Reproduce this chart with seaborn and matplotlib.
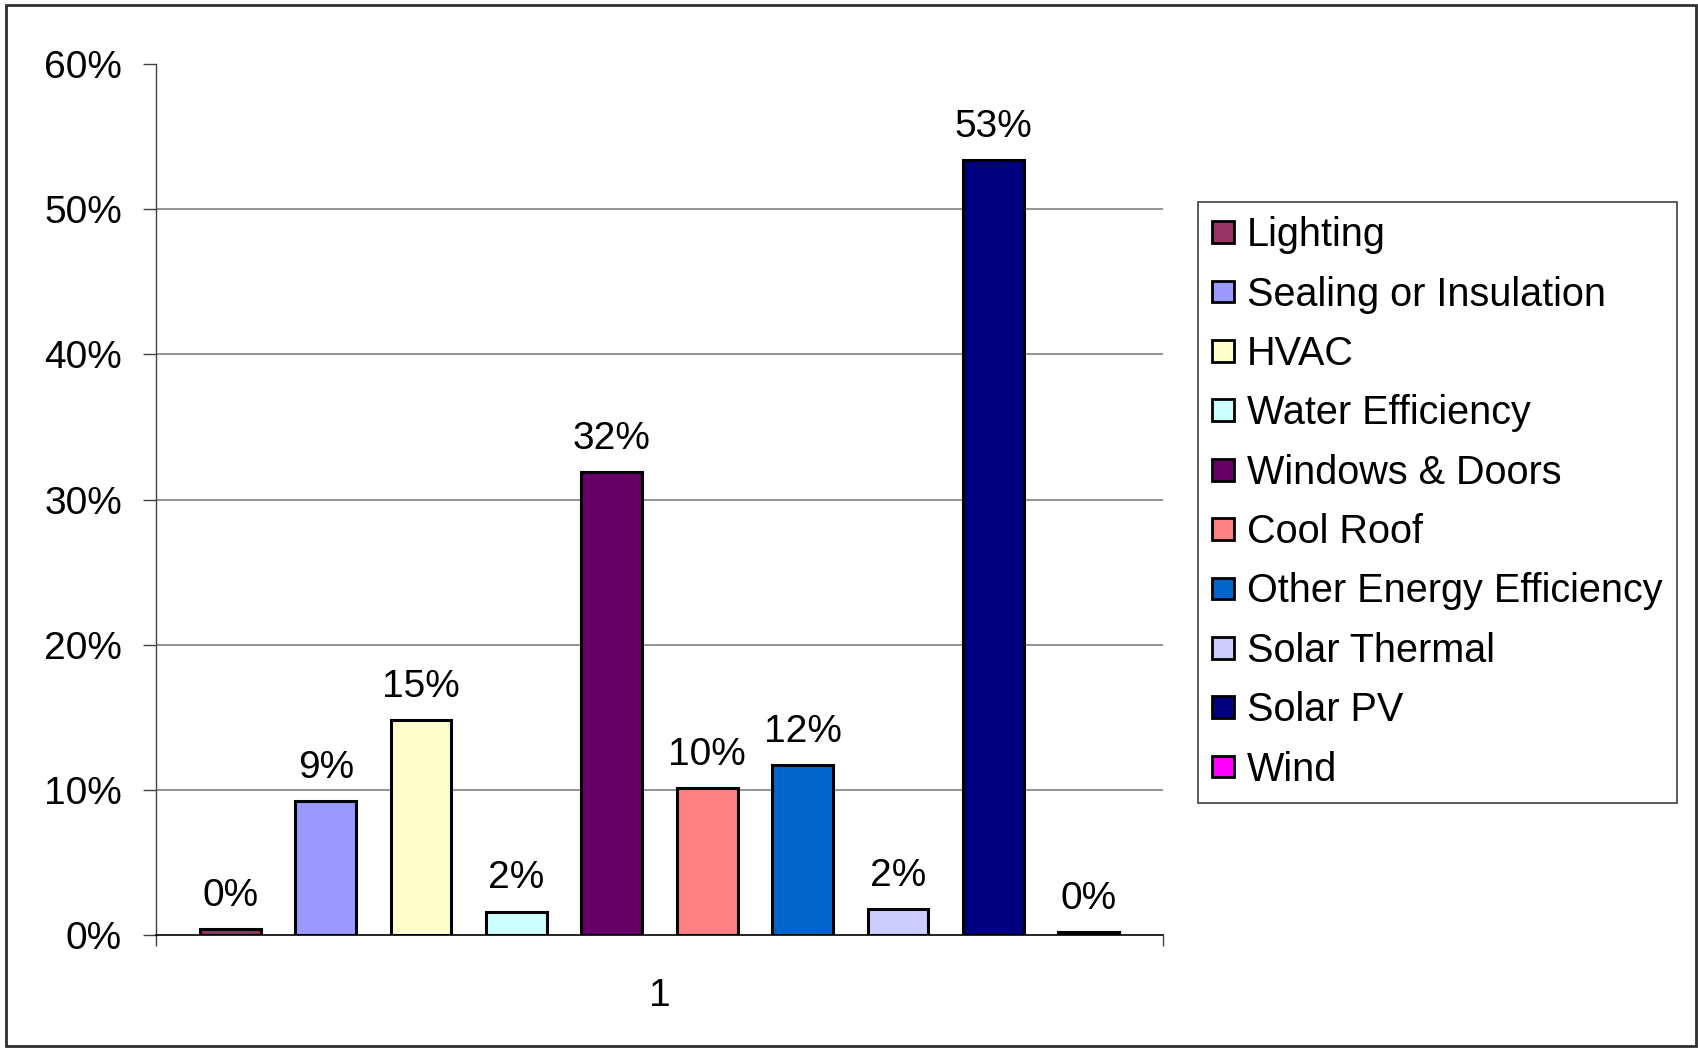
import matplotlib
matplotlib.use("Agg")
import matplotlib.pyplot as plt
import seaborn as sns
import pandas as pd
from matplotlib.patches import Rectangle
from matplotlib.ticker import FuncFormatter, FixedLocator

# ---- data ----
category = ["1"]
series = ["Lighting", "Sealing or Insulation", "HVAC", "Water Efficiency",
          "Windows & Doors", "Cool Roof", "Other Energy Efficiency",
          "Solar Thermal", "Solar PV", "Wind"]
values = [0.004, 0.092, 0.148, 0.016, 0.319, 0.101, 0.117, 0.018, 0.534, 0.002]
colors = ["#993366", "#9999FF", "#FFFFCC", "#CCFFFF", "#660066",
          "#FF8080", "#0066CC", "#CCCCFF", "#000080", "#FF00FF"]
y_ticks = [0.0, 0.1, 0.2, 0.3, 0.4, 0.5, 0.6]

sns.set_style("white")
plt.rcParams["font.family"] = ["Liberation Sans", "DejaVu Sans"]
plt.rcParams["text.color"] = "black"
plt.rcParams["xtick.color"] = "black"
plt.rcParams["ytick.color"] = "black"

df = pd.DataFrame({"cat": category * len(series), "series": series, "value": values})

fig = plt.figure(figsize=(16.98, 10.48), dpi=100)
ax = fig.add_axes([156 / 1698, 1 - 935 / 1048, (1163 - 156) / 1698, (935 - 64) / 1048])

sns.barplot(data=df, x="cat", y="value", hue="series", hue_order=series,
            palette=colors, width=0.947, gap=0.364, dodge=True,
            edgecolor="black", linewidth=2.2, saturation=1, ax=ax, legend=True)

# data labels
for cont, v in zip(ax.containers, values):
    ax.bar_label(cont, labels=[f"{v * 100:.0f}%"], padding=11, fontsize=28, color="black")

ax.set_xlim(-0.5, 0.5)
ax.set_ylim(0, 0.6)
ax.yaxis.set_major_locator(FixedLocator(y_ticks))
ax.yaxis.set_major_formatter(FuncFormatter(lambda v, p: f"{v * 100:.0f}%"))
ax.tick_params(axis="y", which="major", direction="out", length=9.5, width=1,
               color="#404040", labelcolor="black", labelsize=28, pad=15, left=True)
ax.set_xticks([0])
ax.set_xticklabels(["1"])
ax.set_xticks([-0.5, 0.5], minor=True)
ax.tick_params(axis="x", which="major", length=0, labelsize=28, labelcolor="black",
               pad=31, bottom=False)
ax.tick_params(axis="x", which="minor", direction="out", length=8, width=1,
               color="#404040", bottom=True)
ax.set_xlabel("")
ax.set_ylabel("")

ax.grid(axis="y", color="#808080", linewidth=1.2)
ax.set_axisbelow(True)
gl = ax.yaxis.get_gridlines()
gl[-1].set_visible(False)
gl[0].set_visible(False)

for s in ["top", "right"]:
    ax.spines[s].set_visible(False)
ax.spines["left"].set_color("#404040")
ax.spines["left"].set_linewidth(1)
ax.spines["bottom"].set_color("black")
ax.spines["bottom"].set_linewidth(1.2)

# legend
handles, labels = ax.get_legend_handles_labels()
ax.get_legend().remove()
for h in handles:
    h.set_edgecolor("black")
    h.set_linewidth(2.0)
leg = fig.legend(handles, labels, loc="upper left",
                 bbox_to_anchor=(1198 / 1698, 1 - 202 / 1048),
                 bbox_transform=fig.transFigure, borderaxespad=0,
                 fontsize=28.5, frameon=True, fancybox=False, shadow=False,
                 handlelength=0.55, handleheight=0.47, handletextpad=0.33,
                 labelspacing=0.54, borderpad=0.36)
leg.get_frame().set_edgecolor("#404040")
leg.get_frame().set_linewidth(1.2)
leg.get_frame().set_alpha(1)

# outer border
fig.patches.append(Rectangle((6 / 1698, 2 / 1048), 1690 / 1698, 1041 / 1048,
                             transform=fig.transFigure, fill=False,
                             edgecolor="#303030", linewidth=2))

fig.savefig("out.png", dpi=100, facecolor="white")
